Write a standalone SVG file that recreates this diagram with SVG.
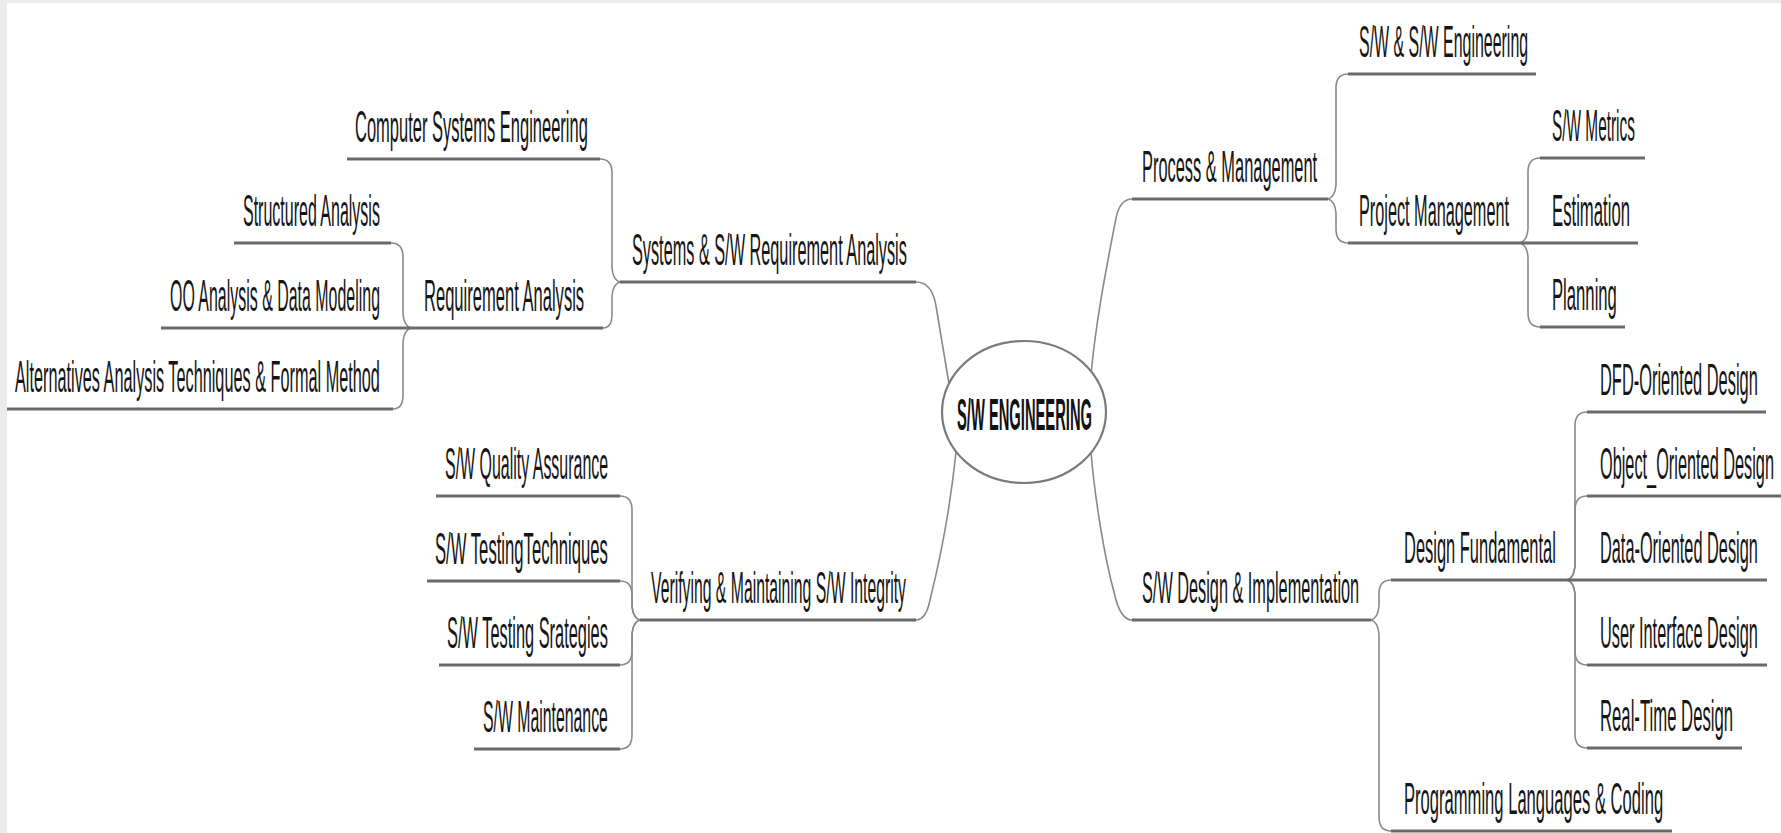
<svg xmlns="http://www.w3.org/2000/svg" width="1781" height="833" viewBox="0 0 1781 833">
<style>
.t{font-family:"Liberation Sans",Arial,sans-serif;font-size:44px;fill:#151515}
.c{font-family:"Liberation Sans",Arial,sans-serif;font-size:44px;font-weight:bold;fill:#111}
.u{fill:none;stroke:#6a6a6a;stroke-width:3;stroke-linecap:butt}
.k{fill:none;stroke:#8a8a8a;stroke-width:1.6}
.e{fill:#fff;stroke:#7a7a7a;stroke-width:2.2}
</style>
<rect x="0" y="0" width="1781" height="833" fill="#ebebeb"/>
<rect x="7" y="3" width="1774" height="830" fill="#fff"/>
<g id="connectors">
<path class="k" d="M916,282 Q932,282 936,306 L950,390"/>
<path class="k" d="M1132,199 Q1120,199 1116,218 C1106,270 1096,320 1091,375"/>
<path class="k" d="M956,452 C950,510 940,560 930,600 Q926,620 916,620"/>
<path class="k" d="M1091,452 C1095,500 1105,560 1114,592 Q1120,620 1132,620"/>
<path class="k" d="M620,282 Q613,280 612,268 L612,173 Q612,159 600,159"/>
<path class="k" d="M620,282 Q613,284 612,296 L612,314 Q612,328 603,328"/>
<path class="k" d="M411,328 Q404,326 403,314 L403,257 Q403,243 391,243"/>
<path class="k" d="M411,328 Q404,330 403,342 L403,395 Q403,409 393,409"/>
<path class="k" d="M640,620 Q633,618 632,606 L632,510 Q632,496 620,496"/>
<path class="k" d="M640,620 Q633,618 632,606 L632,595 Q632,581 620,581"/>
<path class="k" d="M640,620 Q633,622 632,634 L632,651 Q632,665 620,665"/>
<path class="k" d="M640,620 Q633,622 632,634 L632,735 Q632,749 620,749"/>
<path class="k" d="M1328,199 Q1335,197 1336,185 L1336,88 Q1336,74 1348,74"/>
<path class="k" d="M1328,199 Q1335,201 1336,213 L1336,229 Q1336,243 1348,243"/>
<path class="k" d="M1520,243 Q1527,241 1528,229 L1528,172 Q1528,158 1540,158"/>
<path class="k" d="M1520,243 Q1527,245 1528,257 L1528,313 Q1528,327 1540,327"/>
<path class="k" d="M1371,620 Q1378,618 1379,606 L1379,594 Q1379,580 1391,580"/>
<path class="k" d="M1371,620 Q1378,622 1379,634 L1379,817 Q1379,831 1391,831"/>
<path class="k" d="M1567,580 Q1574,578 1575,566 L1575,426 Q1575,412 1587,412"/>
<path class="k" d="M1567,580 Q1574,578 1575,566 L1575,510 Q1575,496 1587,496"/>
<path class="k" d="M1567,580 Q1574,582 1575,594 L1575,651 Q1575,665 1587,665"/>
<path class="k" d="M1567,580 Q1574,582 1575,594 L1575,734 Q1575,748 1587,748"/>
</g>
<g id="center"><ellipse class="e" cx="1024" cy="412" rx="82" ry="71"/><text class="c" transform="translate(957,430) scale(0.33,1)" textLength="409" lengthAdjust="spacingAndGlyphs">S/W ENGINEERING</text></g>
<g id="n-systems"><path class="u" d="M620,282 H916"/><text class="t" transform="translate(632,265) scale(0.375,1)" textLength="733" lengthAdjust="spacingAndGlyphs">Systems &amp; S/W Requirement Analysis</text></g>
<g id="n-cse"><path class="u" d="M347,159 H600"/><text class="t" transform="translate(355,142) scale(0.375,1)" textLength="621" lengthAdjust="spacingAndGlyphs">Computer Systems Engineering</text></g>
<g id="n-req"><path class="u" d="M411,328 H603"/><text class="t" transform="translate(424,311) scale(0.375,1)" textLength="427" lengthAdjust="spacingAndGlyphs">Requirement Analysis</text></g>
<g id="n-struct"><path class="u" d="M234,243 H391"/><text class="t" transform="translate(243,226) scale(0.375,1)" textLength="365" lengthAdjust="spacingAndGlyphs">Structured Analysis</text></g>
<g id="n-oo"><path class="u" d="M161,328 H411"/><text class="t" transform="translate(170,311) scale(0.375,1)" textLength="560" lengthAdjust="spacingAndGlyphs">OO Analysis &amp; Data Modeling</text></g>
<g id="n-alt"><path class="u" d="M7,409 H393"/><text class="t" transform="translate(15,392) scale(0.375,1)" textLength="973" lengthAdjust="spacingAndGlyphs">Alternatives Analysis Techniques &amp; Formal Method</text></g>
<g id="n-verify"><path class="u" d="M640,620 H916"/><text class="t" transform="translate(651,603) scale(0.375,1)" textLength="680" lengthAdjust="spacingAndGlyphs">Verifying &amp; Maintaining S/W Integrity</text></g>
<g id="n-qa"><path class="u" d="M436,496 H620"/><text class="t" transform="translate(445,479) scale(0.375,1)" textLength="435" lengthAdjust="spacingAndGlyphs">S/W Quality Assurance</text></g>
<g id="n-tt"><path class="u" d="M427,581 H620"/><text class="t" transform="translate(435,564) scale(0.375,1)" textLength="461" lengthAdjust="spacingAndGlyphs">S/W TestingTechniques</text></g>
<g id="n-ts"><path class="u" d="M439,665 H620"/><text class="t" transform="translate(447,648) scale(0.375,1)" textLength="429" lengthAdjust="spacingAndGlyphs">S/W Testing Srategies</text></g>
<g id="n-maint"><path class="u" d="M474,749 H620"/><text class="t" transform="translate(483,732) scale(0.375,1)" textLength="333" lengthAdjust="spacingAndGlyphs">S/W Maintenance</text></g>
<g id="n-pm"><path class="u" d="M1132,199 H1328"/><text class="t" transform="translate(1142,182) scale(0.375,1)" textLength="467" lengthAdjust="spacingAndGlyphs">Process &amp; Management</text></g>
<g id="n-swe"><path class="u" d="M1348,74 H1536"/><text class="t" transform="translate(1359,57) scale(0.375,1)" textLength="451" lengthAdjust="spacingAndGlyphs">S/W &amp; S/W Engineering</text></g>
<g id="n-proj"><path class="u" d="M1348,243 H1520"/><text class="t" transform="translate(1359,226) scale(0.375,1)" textLength="400" lengthAdjust="spacingAndGlyphs">Project Management</text></g>
<g id="n-metrics"><path class="u" d="M1540,158 H1645"/><text class="t" transform="translate(1552,141) scale(0.375,1)" textLength="221" lengthAdjust="spacingAndGlyphs">S/W Metrics</text></g>
<g id="n-est"><path class="u" d="M1520,243 H1638"/><text class="t" transform="translate(1552,226) scale(0.375,1)" textLength="208" lengthAdjust="spacingAndGlyphs">Estimation</text></g>
<g id="n-plan"><path class="u" d="M1540,327 H1625"/><text class="t" transform="translate(1552,310) scale(0.375,1)" textLength="173" lengthAdjust="spacingAndGlyphs">Planning</text></g>
<g id="n-design"><path class="u" d="M1132,620 H1371"/><text class="t" transform="translate(1142,603) scale(0.375,1)" textLength="579" lengthAdjust="spacingAndGlyphs">S/W Design &amp; Implementation</text></g>
<g id="n-df"><path class="u" d="M1391,580 H1567"/><text class="t" transform="translate(1404,563) scale(0.375,1)" textLength="405" lengthAdjust="spacingAndGlyphs">Design Fundamental</text></g>
<g id="n-dfd"><path class="u" d="M1587,412 H1766"/><text class="t" transform="translate(1600,395) scale(0.375,1)" textLength="421" lengthAdjust="spacingAndGlyphs">DFD-Oriented Design</text></g>
<g id="n-ood"><path class="u" d="M1587,496 H1781"/><text class="t" transform="translate(1600,479) scale(0.375,1)" textLength="464" lengthAdjust="spacingAndGlyphs">Object_Oriented Design</text></g>
<g id="n-data"><path class="u" d="M1567,580 H1767"/><text class="t" transform="translate(1600,563) scale(0.375,1)" textLength="421" lengthAdjust="spacingAndGlyphs">Data-Oriented Design</text></g>
<g id="n-ui"><path class="u" d="M1587,665 H1767"/><text class="t" transform="translate(1600,648) scale(0.375,1)" textLength="421" lengthAdjust="spacingAndGlyphs">User Interface Design</text></g>
<g id="n-rt"><path class="u" d="M1587,748 H1742"/><text class="t" transform="translate(1600,731) scale(0.375,1)" textLength="355" lengthAdjust="spacingAndGlyphs">Real-Time Design</text></g>
<g id="n-prog"><path class="u" d="M1391,831 H1672"/><text class="t" transform="translate(1404,814) scale(0.375,1)" textLength="691" lengthAdjust="spacingAndGlyphs">Programming Languages &amp; Coding</text></g>
</svg>
